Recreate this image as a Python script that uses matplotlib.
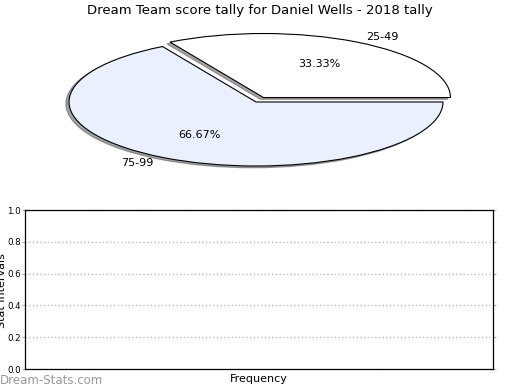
"""
pie of score tally plus an empty frequency panel
"""
import matplotlib
matplotlib.use("Agg")
import matplotlib.pyplot as plt

labels = ["25-49", "75-99"]
shares = [33.33, 66.67]
colors = ["#ffffff", "#eaf0fe"]
explode = [0.08, 0.0]

y_ticks = [0.0, 0.2, 0.4, 0.6, 0.8, 1.0]

fig = plt.figure(figsize=(5.2, 3.9), dpi=100)

# Pie (stretched, no equal aspect)
ax_pie = fig.add_axes([0.0608, 0.5415, 0.863, 0.394])
ax_pie.pie(shares, labels=labels, colors=colors, explode=explode,
           autopct="%.2f%%", startangle=0,
           shadow={"ox": -0.012, "oy": -0.02, "shade": 0.7},
           wedgeprops={"edgecolor": "black", "linewidth": 0.8},
           textprops={"fontsize": 8})
ax_pie.set_aspect("auto")
ax_pie.set_xlim(-1.2, 1.2)
ax_pie.set_ylim(-1.2, 1.2)
ax_pie.axis("off")

fig.text(0.5, 0.974, "Dream Team score tally for Daniel Wells - 2018 tally",
         ha="center", va="center", fontsize=9.5)

# Empty bar panel
ax = fig.add_axes([0.048, 0.0538, 0.9, 0.4077])
ax.set_ylim(0, 1)
ax.set_yticks(y_ticks)
ax.set_xticks([])
ax.tick_params(axis="y", labelsize=6.2, left=True, right=True,
               direction="out", length=2, color="#aaaaaa", pad=1)
ax.grid(axis="y", linestyle=":", color="#bbbbbb", linewidth=1)
for spine in ax.spines.values():
    spine.set_linewidth(0.9)

fig.text(0.498, 0.028, "Frequency", ha="center", va="center", fontsize=8)
fig.text(0.003, 0.256, "Stat Intervals", rotation=90,
         ha="center", va="center", fontsize=8)
fig.text(0.0, 0.025, "Dream-Stats.com", ha="left", va="center",
         fontsize=8.5, color="#999999")

fig.savefig("out.png", dpi=100)
